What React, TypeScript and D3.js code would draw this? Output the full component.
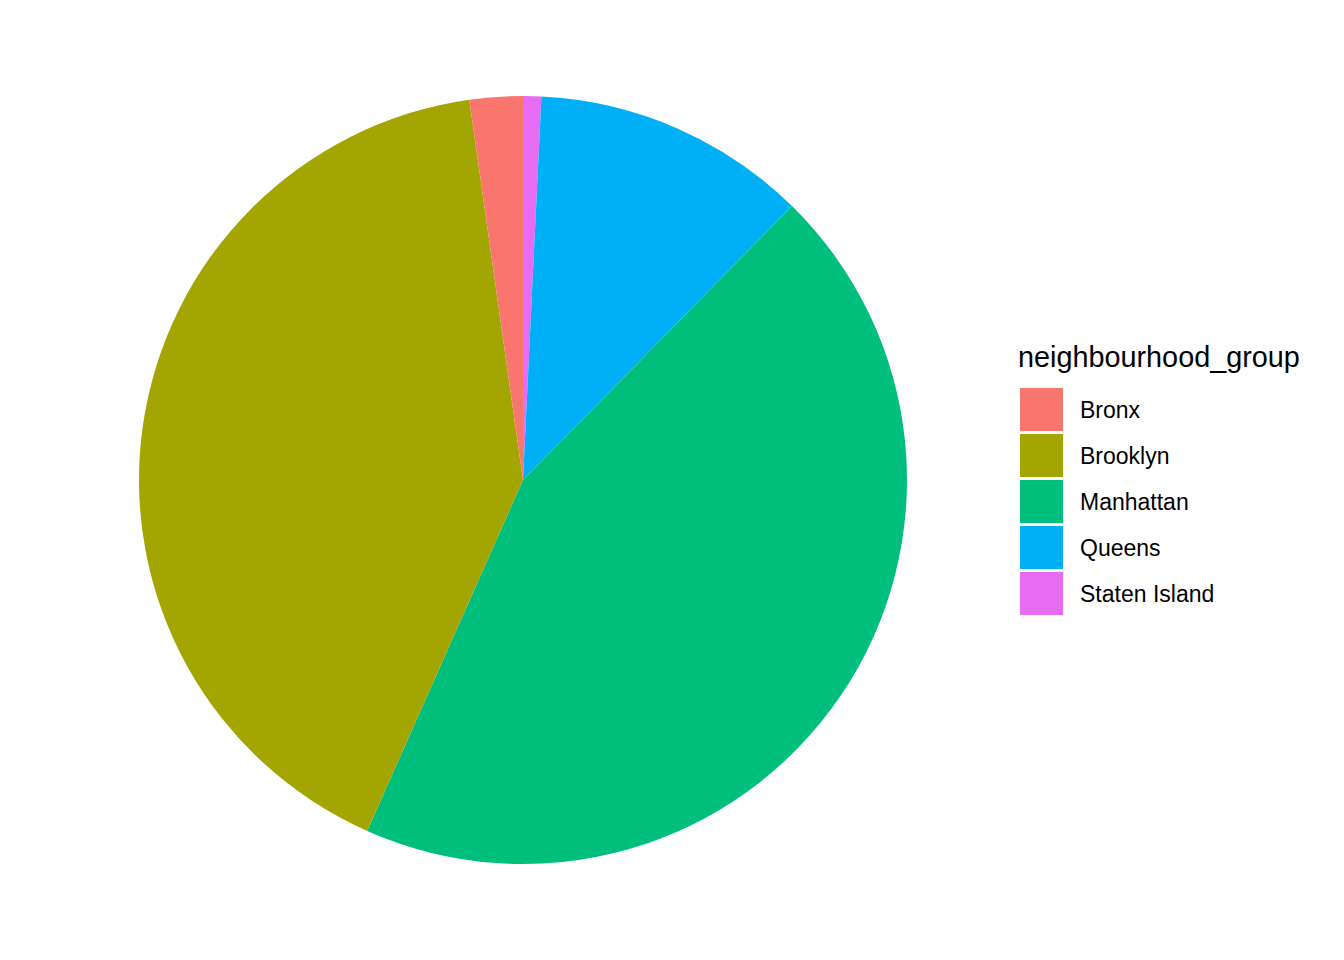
import React from "react";
import * as d3 from "d3";

const categories = ["Bronx", "Brooklyn", "Manhattan", "Queens", "Staten Island"];
const counts = [1091, 20104, 21661, 5666, 373];
const colors = ["#F8766D", "#A3A500", "#00BF7D", "#00B0F6", "#E76BF3"];
const legendTitle = "neighbourhood_group";

export default function App() {
  const width = 1344;
  const height = 960;
  const cx = 523;
  const cy = 480;
  const r = 384;

  // ggplot stacking: clockwise from top goes last level first
  const data = categories.map((c, i) => ({ c, v: counts[i], col: colors[i] })).reverse();
  const pie = d3.pie<any>().value((d) => d.v).sort(null).startAngle(0).endAngle(2 * Math.PI);
  const arcs = pie(data);
  const arc = d3.arc<any>().innerRadius(0).outerRadius(r);

  const keyX = 1020;
  const keyY0 = 388;
  const keyStep = 46;
  const keySize = 43;

  return (
    <svg width={width} height={height} style={{ position: "absolute", left: 0, top: 0 }}
      fontFamily="'Liberation Sans', Arial, sans-serif">
      <rect width={width} height={height} fill="#fff" />
      <g transform={`translate(${cx},${cy})`}>
        {arcs.map((a, i) => (
          <path key={i} d={arc(a) as string} fill={a.data.col} />
        ))}
      </g>
      <text x={1018} y={367} fontSize={28.8} fill="#000">{legendTitle}</text>
      {categories.map((c, i) => (
        <g key={c}>
          <rect x={keyX} y={keyY0 + i * keyStep} width={keySize} height={keySize} fill={colors[i]} />
          <text x={1080} y={keyY0 + i * keyStep + keySize / 2 + 8} fontSize={23} fill="#000">{c}</text>
        </g>
      ))}
    </svg>
  );
}
